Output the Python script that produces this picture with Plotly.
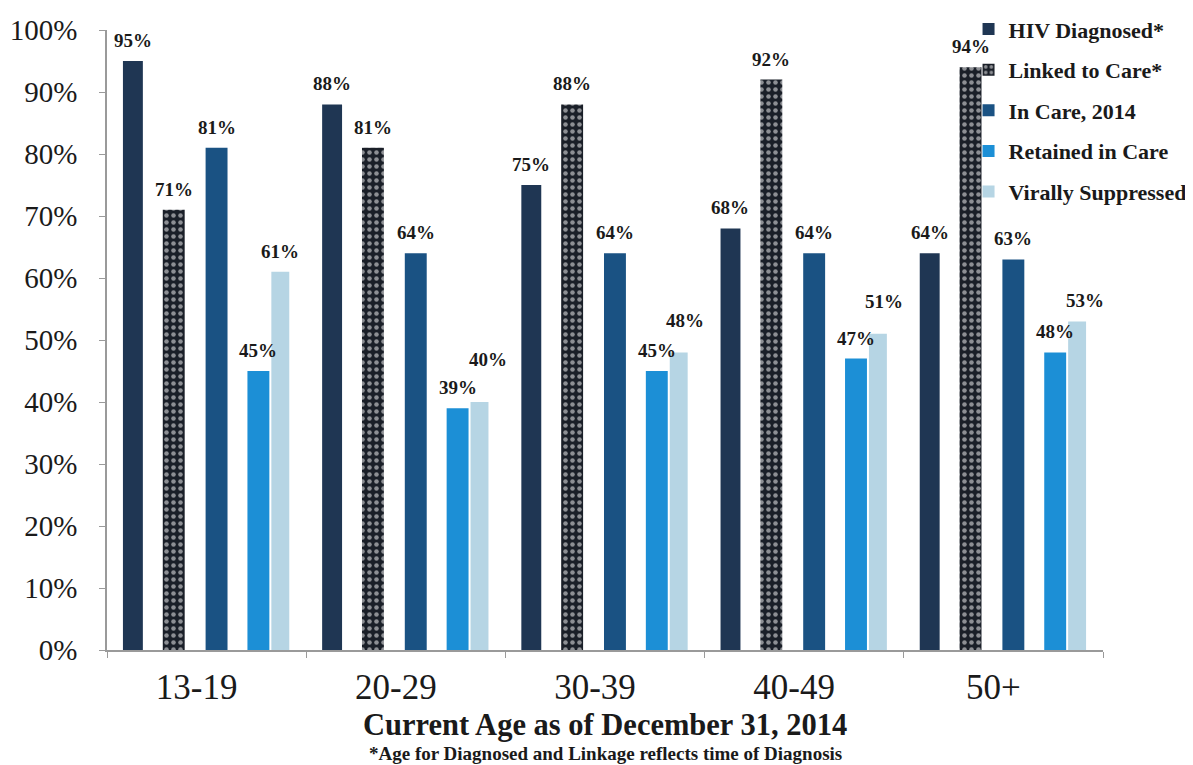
import plotly.graph_objects as go

categories = ["13-19", "20-29", "30-39", "40-49", "50+"]
series_names = ["HIV Diagnosed*", "Linked to Care*", "In Care, 2014", "Retained in Care", "Virally Suppressed"]
hiv_diagnosed = [95, 88, 75, 68, 64]
linked_to_care = [71, 81, 88, 92, 94]
in_care = [81, 64, 64, 64, 63]
retained = [45, 39, 45, 47, 48]
virally_suppressed = [61, 40, 48, 51, 53]

values = [hiv_diagnosed, linked_to_care, in_care, retained, virally_suppressed]
colors = ["#1f3653", "#1a1f28", "#1a5283", "#1c8fd6", "#b6d5e4"]
offsets = [-0.42, -0.22, -0.005, 0.205, 0.325]
widths = [0.10, 0.11, 0.11, 0.11, 0.09]
# extra label lift (px) per series/category, used to stagger crowded labels
label_lift = {4: [0, 22, 11, 12, 0]}
label_nudge = {4: [0, 8, 6, 6, 8]}

W, H = 1185, 757
ML, MR, MT, MB = 99, 90, 22, 115
cat_px = (W - ML - MR) / len(categories)

SERIF = "Liberation Serif"
fig = go.Figure()
annotations = []
for i, (name, vals) in enumerate(zip(series_names, values)):
    marker = dict(color=colors[i], line=dict(width=0))
    if i == 1:
        marker = dict(color="#1a1f28", line=dict(width=0),
                      pattern=dict(shape=".", fgcolor="#ffffff", bgcolor="#1a1f28",
                                   size=7, solidity=0.33, fillmode="overlay"))
    fig.add_trace(go.Bar(
        x=categories, y=vals, name=name, marker=marker,
        offset=offsets[i], width=widths[i], legendgroup=name,
    ))
    lifts = label_lift.get(i, [0] * len(vals))
    nudges = label_nudge.get(i, [0] * len(vals))
    for c, v, lf, nd in zip(categories, vals, lifts, nudges):
        annotations.append(dict(
            x=c, y=v, xref="x", yref="y", text=f"{v}%", showarrow=False,
            xanchor="center", yanchor="bottom",
            xshift=(offsets[i] + widths[i] / 2) * cat_px + nd, yshift=8 + lf,
            font=dict(family=SERIF, size=19, color="#1a1a1a", weight="bold"),
        ))

annotations += [
    dict(text="Current Age as of December 31, 2014", x=0.5, y=-0.09, xref="paper", yref="paper",
         yanchor="top", showarrow=False,
         font=dict(family=SERIF, size=30.5, color="#1a1a1a", weight="bold")),
    dict(text="*Age for Diagnosed and Linkage reflects time of Diagnosis", x=0.5, y=-0.146,
         xref="paper", yref="paper", yanchor="top", showarrow=False,
         font=dict(family=SERIF, size=19, color="#1a1a1a", weight="bold")),
]

fig.update_layout(
    barmode="overlay",
    width=W, height=H,
    margin=dict(l=ML, r=MR, t=MT, b=MB, autoexpand=False),
    paper_bgcolor="white", plot_bgcolor="white",
    showlegend=True,
    legend=dict(x=0.865, y=1.035, xanchor="left", yanchor="top",
                bgcolor="rgba(0,0,0,0)",
                font=dict(family=SERIF, size=22, color="#1a1a1a", weight="bold"),
                tracegroupgap=9, itemwidth=30),
    xaxis=dict(type="category", range=[-0.5, 4.5], showline=True, linecolor="#9a9a9a",
               linewidth=1.5, ticks="outside", tickson="boundaries", ticklen=6,
               tickcolor="#9a9a9a", tickfont=dict(family=SERIF, size=35, color="#1a1a1a"),
               ticklabelstandoff=5, ticklabelshift=-10, showgrid=False),
    yaxis=dict(range=[0, 100], dtick=10, ticksuffix="%", showline=True, linecolor="#9a9a9a",
               linewidth=1.5, ticks="outside", ticklen=6, tickcolor="#9a9a9a",
               tickfont=dict(family=SERIF, size=29, color="#1a1a1a"), showgrid=False,
               ticklabelstandoff=16, zeroline=False),
    annotations=annotations,
)

fig.write_html("out.html")
